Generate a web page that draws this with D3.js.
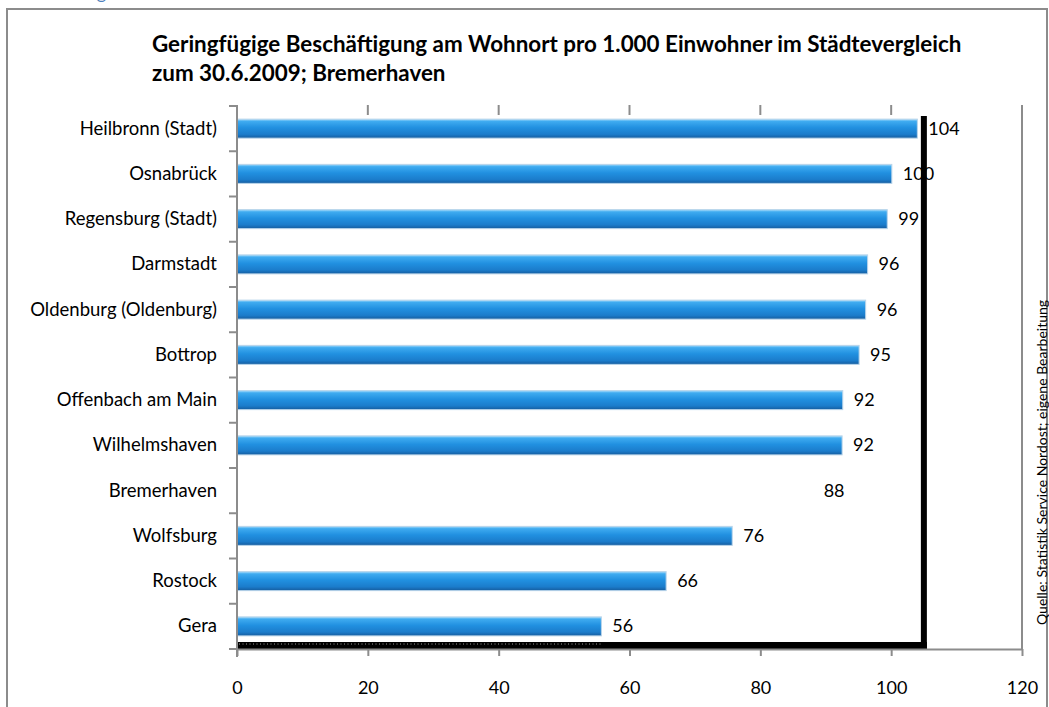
<!DOCTYPE html>
<meta charset="utf-8">
<head>
    <script src="https://d3js.org/d3.v7.min.js"></script>
</head>
<body style="margin:0; background:#fff;">
    <div id="svg_div"></div>
</body>
<script>

    // data
    var cities = ["Heilbronn (Stadt)", "Osnabrück", "Regensburg (Stadt)", "Darmstadt",
        "Oldenburg (Oldenburg)", "Bottrop", "Offenbach am Main", "Wilhelmshaven",
        "Bremerhaven", "Wolfsburg", "Rostock", "Gera"];
    var values = [104.0, 100.1, 99.4, 96.4, 96.1, 95.1, 92.6, 92.5, 88.0, 75.7, 65.6, 55.7];
    var labels = ["104", "100", "99", "96", "96", "95", "92", "92", "88", "76", "66", "56"];
    var hidden_bar = "Bremerhaven";
    var x_ticks = [0, 20, 40, 60, 80, 100, 120];

    var title_lines = ["Geringfügige Beschäftigung am Wohnort pro 1.000 Einwohner im Städtevergleich",
        "zum 30.6.2009; Bremerhaven"];
    var source_text = "Quelle: Statistik Service Nordost; eigene Bearbeitung";
    var top_text = "Anhang";

    var font = "Lato, 'Open Sans', sans-serif";

    function draw_chart() {
        let width = 1049, height = 707;
        let svg = d3.select("#svg_div").append("svg")
            .attr("width", width)
            .attr("height", height)
            .style("display", "block");

        // bar gradient (cylinder look)
        let grad = svg.append("defs").append("linearGradient")
            .attr("id", "bar_grad")
            .attr("x1", 0).attr("y1", 0).attr("x2", 0).attr("y2", 1);
        [[0, "#a6dcfb"], [0.12, "#3fabf0"], [0.45, "#2190e0"], [0.8, "#1b7ccb"], [1, "#155c9e"]]
            .forEach(function (s) {
                grad.append("stop").attr("offset", s[0]).attr("stop-color", s[1]);
            });

        // text cut off at the very top (only its descender shows)
        svg.append("text")
            .attr("x", 106).attr("y", -1)
            .attr("text-anchor", "end")
            .style("font-family", font).style("font-size", "18px")
            .style("fill", "#4f81bd")
            .text(top_text);

        // outer frame
        svg.append("rect")
            .attr("x", 7).attr("y", 9)
            .attr("width", 1040).attr("height", 710)
            .attr("fill", "none")
            .attr("stroke", "#8c8c8c")
            .attr("stroke-width", 2);

        let x = d3.scaleLinear().domain([0, 120]).range([237, 1022]);
        let y = d3.scaleBand().domain(cities).range([106, 649]).paddingInner(0.58).paddingOuter(0.29);
        let band = d3.scaleBand().domain(cities).range([106, 649]);

        // title
        svg.append("text")
            .attr("x", 152).attr("y", 52)
            .style("font-family", font).style("font-size", "22.4px").style("font-weight", "bold")
            .selectAll("tspan").data(title_lines).enter().append("tspan")
            .attr("x", 152)
            .attr("dy", function (d, i) { return i === 0 ? 0 : 29; })
            .text(function (d) { return d; });

        // top gridline stubs
        svg.append("g").selectAll("line")
            .data(x_ticks.slice(1, -1)).enter().append("line")
            .attr("x1", function (d) { return x(d); })
            .attr("x2", function (d) { return x(d); })
            .attr("y1", 105).attr("y2", 115)
            .attr("stroke", "#8c8c8c").attr("stroke-width", 2);

        // right plot border
        svg.append("line")
            .attr("x1", x(120)).attr("x2", x(120))
            .attr("y1", 105).attr("y2", 649)
            .attr("stroke", "#8c8c8c").attr("stroke-width", 2);

        // bars
        let bar_data = cities.map(function (c, i) { return { city: c, value: values[i], label: labels[i] }; });
        svg.append("g").selectAll("rect")
            .data(bar_data.filter(function (d) { return d.city !== hidden_bar; }))
            .enter().append("rect")
            .attr("x", x(0))
            .attr("y", function (d) { return y(d.city); })
            .attr("width", function (d) { return x(d.value) - x(0); })
            .attr("height", y.bandwidth())
            .attr("fill", "url(#bar_grad)")
            .attr("stroke", "#b8d4ea")
            .attr("stroke-width", 1);

        // black L-shape
        let lx = x(105);
        svg.append("line")
            .attr("x1", lx).attr("x2", lx)
            .attr("y1", 116).attr("y2", 649)
            .attr("stroke", "#000").attr("stroke-width", 6);
        svg.append("line")
            .attr("x1", x(0)).attr("x2", lx + 3)
            .attr("y1", 645.5).attr("y2", 645.5)
            .attr("stroke", "#000").attr("stroke-width", 7);
        svg.append("line")
            .attr("x1", x(0) + 2).attr("x2", x(values[values.length - 1]))
            .attr("y1", 644).attr("y2", 644)
            .attr("stroke", "#ffffff").attr("stroke-width", 1)
            .attr("stroke-dasharray", "1,2.5").attr("opacity", 0.6);

        // value labels
        svg.append("g").selectAll("text")
            .data(bar_data).enter().append("text")
            .attr("x", function (d) { return x(d.value) + 11; })
            .attr("y", function (d) { return band(d.city) + band.bandwidth() / 2 + 6; })
            .style("font-family", font).style("font-size", "18px")
            .text(function (d) { return d.label; });

        // y axis
        let y_axis = svg.append("g")
            .attr("transform", "translate(" + x(0) + ",0)");
        y_axis.append("line")
            .attr("x1", 0).attr("x2", 0).attr("y1", 105).attr("y2", 657)
            .attr("stroke", "#8c8c8c").attr("stroke-width", 2);
        y_axis.selectAll(".cat_tick")
            .data(cities.concat(["_end"])).enter().append("line")
            .attr("x1", -8).attr("x2", 0)
            .attr("y1", function (d, i) { return i < cities.length ? band(d) : 649; })
            .attr("y2", function (d, i) { return i < cities.length ? band(d) : 649; })
            .attr("stroke", "#8c8c8c").attr("stroke-width", 2);
        y_axis.selectAll(".cat_label")
            .data(cities).enter().append("text")
            .attr("x", -20)
            .attr("y", function (d) { return band(d) + band.bandwidth() / 2 + 6; })
            .attr("text-anchor", "end")
            .style("font-family", font).style("font-size", "18.5px")
            .text(function (d) { return d; });

        // x axis
        let x_axis = svg.append("g")
            .attr("transform", "translate(0,649)")
            .call(d3.axisBottom(x).tickValues(x_ticks).tickSize(7).tickPadding(25).tickSizeOuter(0));
        x_axis.select(".domain").attr("stroke", "#8c8c8c").attr("stroke-width", 2);
        x_axis.selectAll(".tick line").attr("stroke", "#8c8c8c").attr("stroke-width", 2);
        x_axis.selectAll(".tick text")
            .style("font-family", font).style("font-size", "18px").attr("fill", "#000");

        // source note
        svg.append("text")
            .attr("transform", "translate(1047,625) rotate(-90)")
            .style("font-family", font).style("font-size", "14px")
            .text(source_text);
    }

    draw_chart();

</script>
